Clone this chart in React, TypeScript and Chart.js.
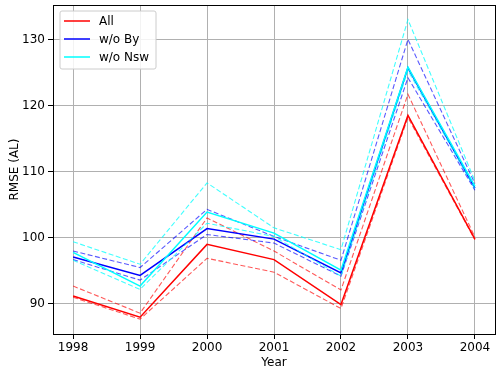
import React, { useEffect, useRef } from "react";
import { Chart, registerables } from "chart.js";

Chart.register(...registerables);

const years = [1998, 1999, 2000, 2001, 2002, 2003, 2004];
const yTicks = [90, 100, 110, 120, 130];
const seriesNames = ["All", "w/o By", "w/o Nsw"];

const allMean = [91.2, 88.0, 99.0, 96.7, 89.9, 118.5, 99.8];
const allUpper = [92.7, 88.6, 103.0, 98.0, 92.1, 121.7, 100.1];
const allLower = [91.0, 87.7, 96.9, 94.8, 89.3, 118.2, 99.7];

const byMean = [97.1, 94.3, 101.4, 99.8, 94.7, 125.7, 107.5];
const byUpper = [98.0, 95.5, 104.3, 100.2, 96.6, 130.0, 108.2];
const byLower = [96.7, 93.6, 100.5, 99.2, 94.2, 124.2, 107.2];

const nswMean = [97.8, 92.7, 103.9, 100.7, 95.1, 125.8, 107.8];
const nswUpper = [99.4, 96.0, 108.3, 101.5, 98.2, 133.0, 108.6];
const nswLower = [96.6, 92.2, 102.2, 100.2, 94.2, 125.3, 107.4];

const COLORS = ["#ff0000", "#0000ff", "#00ffff"];
const DASHED = ["rgba(255,0,0,0.65)", "rgba(0,0,255,0.65)", "rgba(0,255,255,0.75)"];
const FONT = "'DejaVu Sans', sans-serif";

const pts = (vals: number[]) => vals.map((v, i) => ({ x: years[i], y: v }));

const framePlugin = {
  id: "frameLegend",
  afterDraw(chart: any) {
    const { ctx, chartArea } = chart;
    const { left, right, top, bottom } = chartArea;
    ctx.save();
    ctx.strokeStyle = "#000";
    ctx.lineWidth = 1;
    ctx.strokeRect(Math.round(left) + 0.5, Math.round(top) + 0.5, Math.round(right - left), Math.round(bottom - top));

    // legend
    const lx = left + 7, ly = top + 6, lw = 96, lh = 58;
    ctx.fillStyle = "rgba(255,255,255,0.85)";
    ctx.strokeStyle = "#cccccc";
    ctx.lineWidth = 1;
    ctx.beginPath();
    const r = 2;
    ctx.moveTo(lx + r, ly);
    ctx.lineTo(lx + lw - r, ly);
    ctx.arcTo(lx + lw, ly, lx + lw, ly + r, r);
    ctx.lineTo(lx + lw, ly + lh - r);
    ctx.arcTo(lx + lw, ly + lh, lx + lw - r, ly + lh, r);
    ctx.lineTo(lx + r, ly + lh);
    ctx.arcTo(lx, ly + lh, lx, ly + lh - r, r);
    ctx.lineTo(lx, ly + r);
    ctx.arcTo(lx, ly, lx + r, ly, r);
    ctx.closePath();
    ctx.fill();
    ctx.stroke();

    ctx.font = `12px ${FONT}`;
    ctx.textBaseline = "middle";
    ctx.textAlign = "left";
    seriesNames.forEach((name, i) => {
      const yy = ly + 10 + i * 18;
      ctx.strokeStyle = COLORS[i];
      ctx.lineWidth = 1.5;
      ctx.beginPath();
      ctx.moveTo(lx + 4, yy);
      ctx.lineTo(lx + 30, yy);
      ctx.stroke();
      ctx.fillStyle = "#000";
      ctx.fillText(name, lx + 39, yy + 1);
    });
    ctx.restore();
  },
};

export default function App() {
  const ref = useRef<HTMLCanvasElement | null>(null);

  useEffect(() => {
    if (!ref.current) return;
    const groups = [
      { mean: allMean, up: allUpper, lo: allLower },
      { mean: byMean, up: byUpper, lo: byLower },
      { mean: nswMean, up: nswUpper, lo: nswLower },
    ];
    const datasets: any[] = [];
    groups.forEach((g, i) => {
      const base = 10 * (3 - i);
      datasets.push({
        label: seriesNames[i],
        data: pts(g.mean),
        borderColor: COLORS[i],
        borderWidth: 1.5,
        pointRadius: 0,
        tension: 0,
        order: base,
      });
      [g.up, g.lo].forEach((d, k) => {
        datasets.push({
          label: seriesNames[i] + (k === 0 ? " upper" : " lower"),
          data: pts(d),
          borderColor: DASHED[i],
          borderWidth: 1.1,
          borderDash: [5, 2.5],
          pointRadius: 0,
          tension: 0,
          order: base + 1,
        });
      });
    });

    const chart = new Chart(ref.current, {
      type: "line",
      data: { datasets },
      options: {
        animation: false,
        responsive: false,
        layout: { padding: { top: 5, right: 5, left: 0, bottom: 0 } },
        plugins: { legend: { display: false }, tooltip: { enabled: false } },
        scales: {
          x: {
            type: "linear",
            min: 1997.7,
            max: 2004.3,
            afterBuildTicks: (s: any) => {
              s.ticks = years.map((v) => ({ value: v }));
            },
            afterFit: (s: any) => {
              s.height = 39;
              s.paddingLeft = 0;
              s.paddingRight = 0;
            },
            ticks: {
              callback: (v: any) => String(v),
              color: "#000",
              font: { family: FONT, size: 12 },
              padding: 2,
              maxRotation: 0,
            },
            grid: { color: "#b0b0b0", lineWidth: 1, tickLength: 5, tickColor: "#000" },
            border: { display: true, color: "#000" },
            title: {
              display: true,
              text: "Year",
              color: "#000",
              font: { family: FONT, size: 12 },
              padding: { top: 0, bottom: 3 },
            },
          },
          y: {
            type: "linear",
            min: 85.45,
            max: 135.2,
            afterBuildTicks: (s: any) => {
              s.ticks = yTicks.map((v) => ({ value: v }));
            },
            afterFit: (s: any) => {
              s.width = 53;
              s.paddingTop = 0;
              s.paddingBottom = 0;
            },
            ticks: {
              callback: (v: any) => String(v),
              color: "#000",
              font: { family: FONT, size: 12 },
              padding: 3,
            },
            grid: { color: "#b0b0b0", lineWidth: 1, tickLength: 5, tickColor: "#000" },
            border: { display: true, color: "#000" },
            title: {
              display: true,
              text: "RMSE (AL)",
              color: "#000",
              font: { family: FONT, size: 12 },
              padding: { top: 8, bottom: 0 },
            },
          },
        },
      },
      plugins: [framePlugin],
    } as any);
    return () => chart.destroy();
  }, []);

  return (
    <div style={{ position: "absolute", left: 0, top: 0, width: 500, height: 373, background: "#fff" }}>
      <canvas ref={ref} width={500} height={373} style={{ width: 500, height: 373 }} />
    </div>
  );
}
